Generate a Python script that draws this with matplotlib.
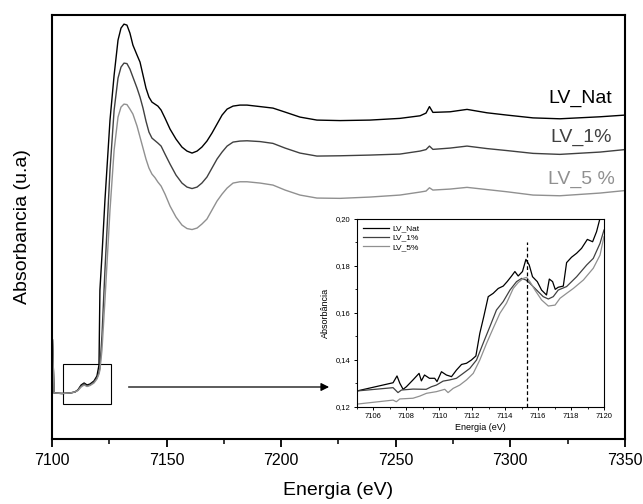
import numpy as np
import matplotlib
matplotlib.use('Agg')
import matplotlib.pyplot as plt
from matplotlib.patches import Rectangle
from matplotlib.ticker import MultipleLocator, FuncFormatter

plt.rcParams['font.family'] = ['Liberation Sans', 'DejaVu Sans']

# ---- main spectra (energy in eV, absorbance in arbitrary units) ----
energia = [7100.2, 7100.9, 7104.4, 7107.9, 7110.0, 7111.3, 7112.7, 7114.0, 7115.3, 7116.6,
           7118.3, 7119.6, 7120.5, 7120.9, 7121.8, 7123.1, 7125.3, 7127.1, 7128.8, 7130.1,
           7131.4, 7132.7, 7134.0, 7135.3, 7137.1, 7138.4, 7139.7, 7141.0, 7142.3, 7143.6,
           7144.9, 7146.2, 7147.6, 7149.3, 7151.5, 7154.1, 7156.7, 7158.9, 7161.1, 7163.3,
           7165.4, 7167.6, 7169.8, 7172.0, 7174.2, 7176.4, 7179.0, 7182.0, 7185.1, 7190.8,
           7196.4, 7201.7, 7208.2, 7215.6, 7225.7, 7238.7, 7251.8, 7260.6, 7263.2, 7264.7,
           7266.2, 7273.7, 7281.1, 7289.8, 7298.5, 7309.9, 7321.6, 7339.1, 7350.0]

lv_nat = [0.99, 0.46, 0.455, 0.46, 0.47, 0.49, 0.54, 0.56, 0.54, 0.55,
          0.58, 0.63, 0.74, 1.49, 1.84, 2.39, 3.19, 3.64, 3.99, 4.11,
          4.15, 4.14, 4.06, 3.94, 3.84, 3.77, 3.64, 3.51, 3.42, 3.37,
          3.35, 3.33, 3.29, 3.21, 3.10, 3.00, 2.92, 2.88, 2.86, 2.88,
          2.92, 2.98, 3.06, 3.15, 3.24, 3.30, 3.33, 3.34, 3.34, 3.325,
          3.31, 3.27, 3.22, 3.19, 3.185, 3.19, 3.207, 3.233, 3.26, 3.325,
          3.267, 3.273, 3.297, 3.263, 3.24, 3.212, 3.203, 3.223, 3.24]

lv_1 = [0.99, 0.46, 0.455, 0.46, 0.47, 0.49, 0.53, 0.55, 0.53, 0.54,
        0.57, 0.61, 0.67, 0.71, 1.04, 1.69, 2.69, 3.29, 3.61, 3.72,
        3.76, 3.755, 3.70, 3.62, 3.51, 3.42, 3.31, 3.18, 3.07, 3.01,
        2.985, 2.96, 2.93, 2.85, 2.75, 2.64, 2.56, 2.52, 2.505, 2.52,
        2.56, 2.62, 2.71, 2.80, 2.87, 2.93, 2.97, 2.98, 2.983, 2.975,
        2.957, 2.91, 2.86, 2.83, 2.833, 2.84, 2.85, 2.88, 2.895, 2.93,
        2.897, 2.91, 2.93, 2.905, 2.885, 2.857, 2.847, 2.87, 2.895]

lv_5 = [0.99, 0.46, 0.455, 0.46, 0.47, 0.485, 0.52, 0.54, 0.525, 0.535,
        0.56, 0.60, 0.65, 0.69, 0.89, 1.39, 2.29, 2.89, 3.22, 3.32,
        3.35, 3.345, 3.30, 3.25, 3.13, 3.02, 2.91, 2.80, 2.71, 2.65,
        2.615, 2.57, 2.53, 2.45, 2.33, 2.22, 2.14, 2.105, 2.095, 2.11,
        2.15, 2.20, 2.29, 2.38, 2.45, 2.51, 2.56, 2.573, 2.573, 2.56,
        2.54, 2.49, 2.44, 2.41, 2.407, 2.42, 2.44, 2.47, 2.48, 2.513,
        2.49, 2.50, 2.517, 2.495, 2.473, 2.44, 2.433, 2.46, 2.485]

# ---- inset (pre-edge zoom) ----
e_nat = [7105.0, 7107.19, 7107.43, 7107.6, 7107.8, 7108.0, 7108.4, 7108.77, 7108.91, 7109.1,
         7109.4, 7109.72, 7109.86, 7110.13, 7110.43, 7110.74, 7111.04, 7111.35, 7111.65, 7111.95,
         7112.22, 7112.46, 7112.7, 7112.97, 7113.27, 7113.58, 7113.88, 7114.12, 7114.39, 7114.59,
         7114.79, 7115.05, 7115.26, 7115.46, 7115.66, 7115.95, 7116.21, 7116.51, 7116.68, 7116.88,
         7117.04, 7117.22, 7117.53, 7117.73, 7118.03, 7118.34, 7118.64, 7118.99, 7119.31, 7119.55,
         7119.76, 7119.9]
a_nat = [0.1267, 0.1302, 0.1331, 0.1300, 0.1274, 0.1285, 0.1314, 0.1342, 0.1310, 0.1335,
         0.1321, 0.1321, 0.1307, 0.1349, 0.1335, 0.1328, 0.1356, 0.1380, 0.1385, 0.1399,
         0.1416, 0.1513, 0.1584, 0.1669, 0.1683, 0.1704, 0.1714, 0.1733, 0.1757, 0.1776,
         0.1757, 0.1776, 0.1828, 0.1804, 0.1754, 0.1733, 0.1697, 0.1676, 0.1744, 0.1733,
         0.1700, 0.1709, 0.1714, 0.1814, 0.1837, 0.1854, 0.1875, 0.1913, 0.1903, 0.1946,
         0.2003, 0.2030]

e_1 = [7105.0, 7107.19, 7107.49, 7107.7, 7108.4, 7109.2, 7109.52, 7109.82, 7110.23, 7110.63,
       7111.04, 7111.45, 7111.85, 7112.26, 7112.66, 7113.07, 7113.47, 7113.88, 7114.29, 7114.69,
       7115.0, 7115.26, 7115.5, 7115.91, 7116.31, 7116.62, 7116.92, 7117.22, 7117.73, 7118.34,
       7118.95, 7119.35, 7119.76, 7120.0]
a_1 = [0.1267, 0.1281, 0.1260, 0.1271, 0.1275, 0.1274, 0.1285, 0.1292, 0.1309, 0.1314,
       0.1321, 0.1342, 0.1363, 0.1399, 0.1470, 0.1541, 0.1612, 0.1648, 0.1697, 0.1733,
       0.1747, 0.1740, 0.1726, 0.1697, 0.1669, 0.1659, 0.1669, 0.1697, 0.1712, 0.1754,
       0.1804, 0.1832, 0.1896, 0.1953]

e_5 = [7105.0, 7107.19, 7107.39, 7107.6, 7108.4, 7108.81, 7109.22, 7109.82, 7110.33, 7110.53,
       7110.84, 7111.24, 7111.65, 7112.06, 7112.46, 7112.87, 7113.27, 7113.68, 7114.08, 7114.49,
       7114.79, 7115.1, 7115.3, 7115.5, 7115.81, 7116.21, 7116.62, 7117.03, 7117.33, 7117.73,
       7118.14, 7118.75, 7119.35, 7119.76, 7120.0]
a_5 = [0.1211, 0.1228, 0.1221, 0.1233, 0.1236, 0.1245, 0.1257, 0.1264, 0.1274, 0.1260,
       0.1278, 0.1292, 0.1314, 0.1342, 0.1399, 0.1470, 0.1534, 0.1598, 0.1641, 0.1704,
       0.1729, 0.1747, 0.1751, 0.1733, 0.1697, 0.1655, 0.1629, 0.1633, 0.1662, 0.1683,
       0.1704, 0.1740, 0.1790, 0.1846, 0.1925]

e_pico = 7115.34
caja = (7104.8, 7125.7, 0.35, 0.75)   # zoom box in the main plot
flecha = (7133.4, 7220.9, 0.52)

c_nat, c_1, c_5 = 'black', '#404040', '#909090'

fig = plt.figure(figsize=(6.43, 5.04), dpi=100)
ax = fig.add_axes([0.0809, 0.129, 0.891, 0.841])
ax.plot(energia, lv_nat, color=c_nat, lw=1.0)
ax.plot(energia, lv_1, color=c_1, lw=1.0)
ax.plot(energia, lv_5, color=c_5, lw=1.0)
ax.set_xlim(7100, 7350)
ax.set_ylim(0, 4.24)
ax.xaxis.set_major_locator(MultipleLocator(50))
ax.xaxis.set_minor_locator(MultipleLocator(25))
ax.tick_params(axis='x', which='major', direction='out', length=6, width=1.3, labelsize=11.5, pad=4)
ax.tick_params(axis='x', which='minor', direction='out', length=3.5, width=1.1)
ax.set_yticks([])
for s in ax.spines.values():
    s.set_linewidth(1.5)
ax.set_xlabel('Energia (eV)', fontsize=14, labelpad=10)
ax.set_ylabel('Absorbancia (u.a)', fontsize=14, labelpad=15)

ax.text(7344.3, 3.41, 'LV_Nat', color=c_nat, fontsize=14, ha='right', va='center')
ax.text(7344.3, 3.02, 'LV_1%', color=c_1, fontsize=14, ha='right', va='center')
ax.text(7345.5, 2.60, 'LV_5 %', color=c_5, fontsize=14, ha='right', va='center')

ax.add_patch(Rectangle((caja[0], caja[2]), caja[1] - caja[0], caja[3] - caja[2],
                       fill=False, edgecolor='black', lw=0.8))
ax.annotate('', xy=(flecha[1], flecha[2]), xytext=(flecha[0], flecha[2]),
            arrowprops=dict(arrowstyle='-|>', color='black', lw=0.9,
                            mutation_scale=12, shrinkA=0, shrinkB=0))

# inset
axi = fig.add_axes([0.5552, 0.1931, 0.3841, 0.3724])
axi.plot(e_nat, a_nat, color=c_nat, lw=0.9, label='LV_Nat')
axi.plot(e_1, a_1, color=c_1, lw=0.9, label='LV_1%')
axi.plot(e_5, a_5, color=c_5, lw=0.9, label='LV_5%')
axi.plot([e_pico, e_pico], [0.12, 0.19], color='black', ls=(0, (3, 2)), lw=0.9)
axi.set_xlim(7105, 7120)
axi.set_ylim(0.12, 0.20)
axi.xaxis.set_major_locator(MultipleLocator(2))
axi.xaxis.set_minor_locator(MultipleLocator(1))
axi.yaxis.set_major_locator(MultipleLocator(0.02))
axi.yaxis.set_minor_locator(MultipleLocator(0.01))
axi.yaxis.set_major_formatter(FuncFormatter(lambda v, p: ('%.2f' % v).replace('.', ',')))
axi.tick_params(which='major', direction='out', length=2.5, width=0.7, labelsize=5.5, pad=2)
axi.tick_params(which='minor', direction='out', length=1.5, width=0.6)
for s in axi.spines.values():
    s.set_linewidth(0.8)
axi.set_xlabel('Energia (eV)', fontsize=6.5, labelpad=2)
axi.set_ylabel('Absorbância', fontsize=6.5, labelpad=4)
axi.legend(loc='upper left', frameon=False, fontsize=6, handlelength=3.2,
           labelspacing=0.15, borderaxespad=0.3, handletextpad=0.4)

fig.savefig('out.png', dpi=100)
